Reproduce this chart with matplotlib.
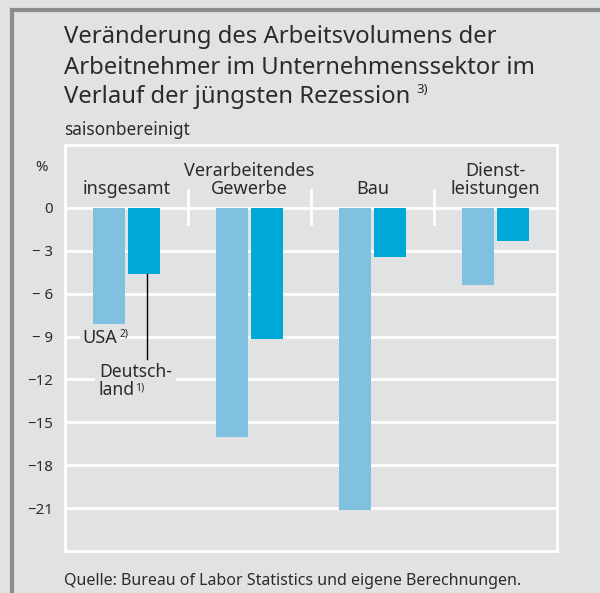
import numpy as np
import matplotlib
matplotlib.use('Agg')
import matplotlib.pyplot as plt
from matplotlib.lines import Line2D

plt.rcParams['font.family'] = ['Noto Sans', 'DejaVu Sans']

# data
categories = ['insgesamt', 'Verarbeitendes\nGewerbe', 'Bau', 'Dienst-\nleistungen']
usa = [-8.1, -16.0, -21.1, -5.4]
deutschland = [-4.6, -9.2, -3.4, -2.3]
y_ticks = [0, -3, -6, -9, -12, -15, -18, -21]
y_ticklabels = ['0', '\u2212 3', '\u2212 6', '\u2212 9', '\u221212', '\u221215', '\u221218', '\u221221']
title_lines = ['Veränderung des Arbeitsvolumens der',
               'Arbeitnehmer im Unternehmenssektor im',
               'Verlauf der jüngsten Rezession']

BG = '#e1e2e4'
C_USA = '#7fc1df'
C_DE = '#00a8d8'
TXT = '#2b2b2b'

W, H = 600, 593
fig = plt.figure(figsize=(W / 100, H / 100), dpi=100, facecolor=BG)
ax = fig.add_axes([0.1083, 0.0708, 0.82, 0.6847])
ax.set_facecolor(BG)


def add_sup(t, sup, size, dx=2.0, dy=0.0):
    # small bold footnote mark right of a text, top aligned with it
    r = fig.canvas.get_renderer()
    bb = t.get_window_extent(r)
    fig.text((bb.x1 + dx) / W, (bb.y1 - dy) / H, sup, fontsize=size,
             fontweight='bold', color=TXT, ha='left', va='top', zorder=5)


x = np.arange(len(categories))
w = 0.26
off = 0.142
ax.bar(x - off, usa, width=w, color=C_USA, zorder=3)
ax.bar(x + off, deutschland, width=w, color=C_DE, zorder=3)

ax.set_xlim(-0.5, 3.5)
ax.set_ylim(-24.0, 4.4)

for yv in y_ticks:
    ax.axhline(yv, color='white', lw=2, zorder=1)
for sx in [0.5, 1.5, 2.5]:
    ax.plot([sx, sx], [1.26, -1.12], color='white', lw=2, zorder=1)

for sp in ax.spines.values():
    sp.set_color('white')
    sp.set_linewidth(2)

ax.set_xticks([])
ax.set_yticks(y_ticks)
ax.set_yticklabels(y_ticklabels, fontsize=10.8, color=TXT)
ax.tick_params(axis='y', length=0, pad=8.6)

ax.text(-0.69, 2.8, '%', fontsize=10.8, color=TXT, ha='center', va='center')

for i, cat in enumerate(categories):
    ax.text(i, 0.68, cat, fontsize=13, color=TXT, ha='center', va='bottom',
            linespacing=0.99)

# annotations
t_usa = ax.text(-0.355, -9.44, 'USA', fontsize=13, color=TXT,
                ha='left', va='baseline', zorder=4,
                bbox=dict(facecolor=BG, edgecolor='none', pad=2))
t_de1 = ax.text(-0.224, -11.82, 'Deutsch-', fontsize=12.6, color=TXT,
                ha='left', va='baseline', zorder=4,
                bbox=dict(facecolor=BG, edgecolor='none', pad=3))
t_de2 = ax.text(-0.224, -13.08, 'land', fontsize=12.6, color=TXT,
                ha='left', va='baseline', zorder=4)
ax.plot([0.17, 0.17], [deutschland[0], -10.6], color='black', lw=1, zorder=4)

# title and notes
baselines = [43, 74, 103]
t_title = None
for line, b in zip(title_lines, baselines):
    t_title = fig.text(0.107, 1 - b / H, line, fontsize=17.2, color=TXT,
                       ha='left', va='baseline')
fig.text(0.107, 0.7723, 'saisonbereinigt', fontsize=12.4, color=TXT, ha='left', va='baseline')
fig.text(0.107, 0.0135, 'Quelle: Bureau of Labor Statistics und eigene Berechnungen.',
         fontsize=11.5, color=TXT, ha='left', va='baseline')

add_sup(t_title, '3)', 9.5, dx=6, dy=-2)
add_sup(t_usa, '2)', 7.5, dx=2, dy=0)
add_sup(t_de2, '1)', 7.5, dx=0, dy=2)

# frame
fig.add_artist(Line2D([0.02, 1.0], [0.983, 0.983], color='#8c8c8c', lw=3))
fig.add_artist(Line2D([0.02, 0.02], [0.0, 0.983], color='#8c8c8c', lw=3))

fig.savefig('out.png', dpi=100, facecolor=BG)
